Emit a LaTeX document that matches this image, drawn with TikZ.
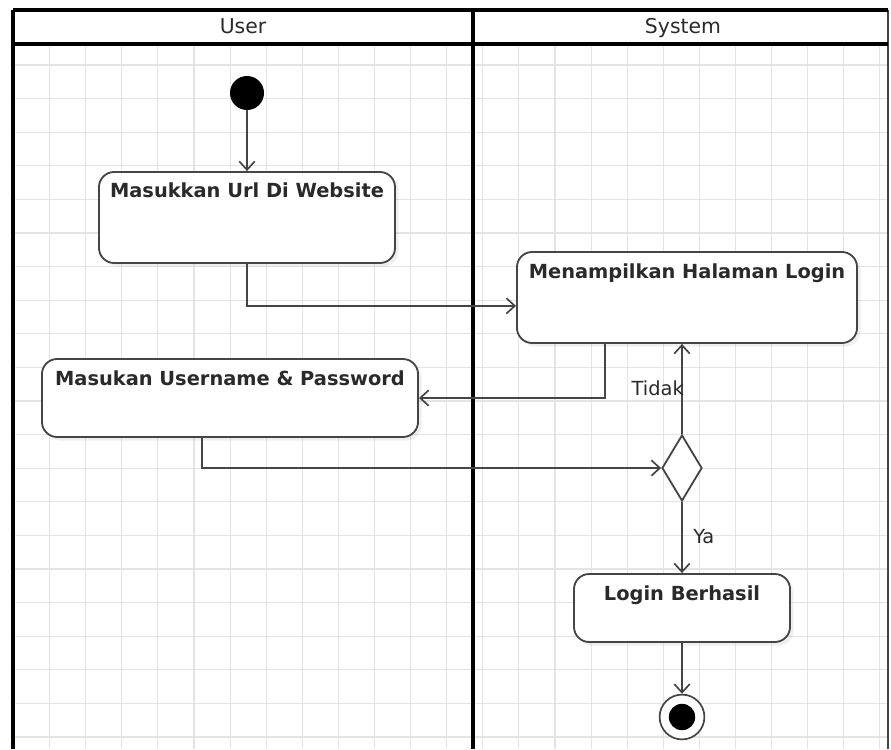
\documentclass[tikz,border=0pt]{standalone}
\usepackage{fontspec}
\setmainfont{DejaVu Sans}
\usetikzlibrary{arrows.meta,shapes.geometric,shadows}
\definecolor{gridgray}{HTML}{E4E4E4}
\definecolor{edgegray}{HTML}{454545}
\definecolor{inkgray}{HTML}{2A2A2A}
\begin{document}
\begin{tikzpicture}[x=0.025cm,y=-0.025cm,
  lane/.style={line width=2.6pt,black},
  actbox/.style={draw=edgegray,line width=1.3pt,rounded corners=0.38cm,fill=white,
    inner sep=0pt,drop shadow={shadow xshift=2.5pt,shadow yshift=-2.5pt,opacity=0.12}},
  acttext/.style={font=\bfseries\fontsize{13.8}{16}\selectfont,text=inkgray,inner sep=0pt,anchor=base},
  flow/.style={draw=edgegray,line width=1.3pt,-{Straight Barb[length=6pt,width=11pt,line width=1.2pt]}},
  guard/.style={font=\fontsize{13.8}{16}\selectfont,text=inkgray,inner sep=0pt},
  head/.style={font=\fontsize{14.5}{16}\selectfont,text=inkgray,inner sep=0pt,anchor=base}]
\useasboundingbox (0,0) rectangle (891,749);
\fill[white] (0,0) rectangle (891,749);

% background grid
\foreach \k in {1,...,24}
  \draw[gridgray,line width=0.8pt] (13.5+36.1*\k,44) -- (13.5+36.1*\k,749);
\foreach \k in {0,...,20}
  \draw[gridgray,line width=0.8pt] (13,65+33.6*\k) -- (888,65+33.6*\k);

% swimlanes
\draw[edgegray,line width=1pt] (888,10) -- (888,749);
\draw[lane] (13,10) -- (888,10);
\draw[lane,line width=2.2pt] (13,44) -- (888,44);
\draw[lane] (13,10) -- (13,749);
\draw[lane,line width=3pt] (473,10) -- (473,749);
\node[head] (hUser) at (243,34) {User};
\node[head] (hSys) at (683,34) {System};

% start and end
\node[circle,fill=black,minimum size=0.85cm,inner sep=0pt] (st) at (247,93) {};
\node[circle,draw=edgegray,line width=1.2pt,fill=white,minimum size=1.12cm,inner sep=0pt] (en) at (682,717) {};
\node[circle,fill=black,minimum size=0.66cm,inner sep=0pt] (enc) at (en) {};

% actions, titles set on a baseline near the top edge
\node[actbox,minimum width=7.4cm,minimum height=2.275cm] (a1) at (247,217.5) {};
\node[acttext] (a1t) at ([yshift=-0.66cm]a1.north) {Masukkan Url Di Website};
\node[actbox,minimum width=8.5cm,minimum height=2.275cm] (a2) at (687,297.5) {};
\node[acttext] (a2t) at ([yshift=-0.69cm]a2.north) {Menampilkan Halaman Login};
\node[actbox,minimum width=9.4cm,minimum height=1.95cm] (a3) at (230,398) {};
\node[acttext] (a3t) at ([yshift=-0.68cm]a3.north) {Masukan Username \& Password};
\node[actbox,minimum width=5.4cm,minimum height=1.7cm] (a4) at (682,608) {};
\node[acttext] (a4t) at ([yshift=-0.69cm]a4.north) {Login Berhasil};

% decision
\node[diamond,draw=edgegray,line width=1.3pt,fill=white,minimum width=1cm,minimum height=1.65cm,inner sep=0pt] (dec) at (682,468) {};

% flows
\draw[flow] (st) -- (a1);
\draw[flow] (a1.south) |- ([yshift=-0.21cm]a2.west);
\draw[flow] ([xshift=-2.05cm]a2.south) |- (a3.east);
\draw[flow] ([xshift=-0.7cm]a3.south) |- (dec.west);
\draw[flow] (dec.north) -- (dec.north |- a2.south);
\draw[flow] (dec.south) -- (a4.north);
\draw[flow] (a4.south) -- (en.north);

% guards
\node[guard,anchor=base east] (gNo) at (684,395) {Tidak};
\node[guard,anchor=base west] (gYes) at (693,543) {Ya};
\end{tikzpicture}
\end{document}
